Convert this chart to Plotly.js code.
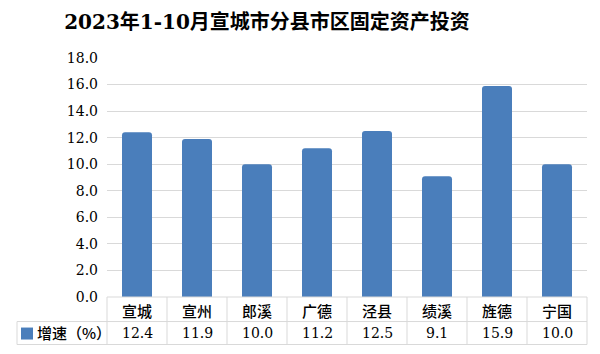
<!DOCTYPE html>
<html>
<head>
<meta charset="utf-8">
<script src="https://cdn.plot.ly/plotly-3.0.1.min.js"></script>
<style>html,body{margin:0;padding:0;background:#fff;}#chart{width:600px;height:354px;}</style>
</head>
<body>
<div id="chart"></div>
<script>
const titleText = "2023年1-10月宣城市分县市区固定资产投资";
const categories = ["宣城", "宣州", "郎溪", "广德", "泾县", "绩溪", "旌德", "宁国"];
const growth = [12.4, 11.9, 10.0, 11.2, 12.5, 9.1, 15.9, 10.0];
const seriesName = "增速（%）";
const yTicks = [0, 2, 4, 6, 8, 10, 12, 14, 16, 18];

const W = 600, H = 354;
const L = 107, R = 587, T = 58, B = 297.4;
const pw = R - L, ph = B - T;
const px = x => (x - L) / pw;
const py = y => (B - y) / ph;

const barColor = "#4a7ebb";
const lineColor = "#d9d9d9";
const serif = "DejaVu Serif, Noto Sans CJK SC, sans-serif";
const cjk = "Noto Sans CJK SC, sans-serif";

const shapes = [];
const hline = (x0, x1, y) => shapes.push({type: "line", xref: "paper", yref: "paper", x0: px(x0), x1: px(x1), y0: py(y), y1: py(y), line: {color: lineColor, width: 1}});
const vline = (x, y0, y1) => shapes.push({type: "line", xref: "paper", yref: "paper", x0: px(x), x1: px(x), y0: py(y0), y1: py(y1), line: {color: lineColor, width: 1}});
hline(L, R, 297.4);
hline(17, R, 322);
hline(17, R, 345);
vline(17, 322, 345);
const colW = pw / categories.length;
for (let k = 0; k <= categories.length; k++) vline(L + colW * k, 297.4, 345);
shapes.push({type: "rect", xref: "paper", yref: "paper", x0: px(21), x1: px(33), y0: py(340), y1: py(328), line: {width: 0}, fillcolor: barColor});

const annotations = [];
categories.forEach((c, i) => {
  annotations.push({x: c, xref: "x", y: py(310.5), yref: "paper", text: c, showarrow: false, xanchor: "center", yanchor: "middle", font: {family: cjk, size: 15, color: "#000", weight: 500}});
  annotations.push({x: c, xref: "x", y: py(333), yref: "paper", text: growth[i].toFixed(1), showarrow: false, xanchor: "center", yanchor: "middle", font: {family: serif, size: 14, color: "#000"}});
});
annotations.push({x: px(35), xref: "paper", y: py(333), yref: "paper", text: seriesName, showarrow: false, xanchor: "left", yanchor: "middle", font: {family: cjk, size: 15, color: "#000", weight: 500}});

const data = [{
  type: "bar",
  x: categories,
  y: growth,
  name: seriesName,
  marker: {color: barColor},
  width: 0.5,
  hoverinfo: "skip"
}];

const layout = {
  width: W, height: H,
  margin: {l: L, r: W - R, t: T, b: H - B, pad: 0},
  paper_bgcolor: "#fff",
  plot_bgcolor: "#fff",
  showlegend: false,
  barcornerradius: 3,
  title: {text: titleText, x: 267 / W, xanchor: "center", y: 1 - 22 / H, yanchor: "middle", font: {family: serif, size: 20, color: "#000", weight: "bold"}},
  xaxis: {showticklabels: false, showgrid: false, zeroline: false, showline: false, ticks: ""},
  yaxis: {
    range: [0, 18], tickvals: yTicks, ticktext: yTicks.map(v => v.toFixed(1)),
    showgrid: true, gridcolor: lineColor, gridwidth: 1, zeroline: false, showline: false, ticks: "",
    tickfont: {family: serif, size: 14, color: "#000"}, ticklabelstandoff: 8
  },
  shapes: shapes,
  annotations: annotations
};
Plotly.newPlot("chart", data, layout, {staticPlot: true, displayModeBar: false});
</script>
</body>
</html>
